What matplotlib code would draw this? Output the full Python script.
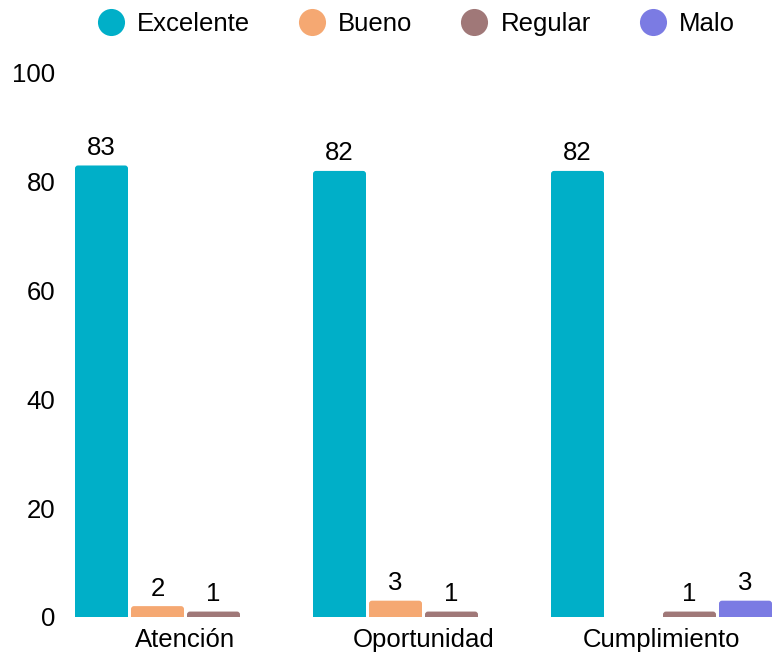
import matplotlib
matplotlib.use("Agg")
import matplotlib.pyplot as plt
from matplotlib.lines import Line2D
from matplotlib.patches import FancyBboxPatch
import numpy as np

categories = ["Atención", "Oportunidad", "Cumplimiento"]
series_names = ["Excelente", "Bueno", "Regular", "Malo"]
excelente = [83, 82, 82]
bueno = [2, 3, 0]
regular = [1, 1, 1]
malo = [0, 0, 3]
colors = ["#00AFC8", "#F5A872", "#A07878", "#7B7BE3"]
yticks = [0, 20, 40, 60, 80, 100]

plt.rcParams['font.family'] = ['Liberation Sans', 'DejaVu Sans']
FS = 18.5

fig = plt.figure(figsize=(7.77, 6.56), dpi=100)
W, H = 777, 656
ax = fig.add_axes([66.5 / W, 39 / H, 714 / W, 544 / H])
ax.set_xlim(-0.5, 2.5)
ax.set_ylim(0, 100)

data = [excelente, bueno, regular, malo]
x = np.arange(len(categories))
bw = 53 / 238
step = 56 / 238
offsets = (np.arange(4) - 1.5) * step
r = 3 / 238
aspect = (1 / 5.44) / (1 / 238)
for i, (vals, col) in enumerate(zip(data, colors)):
    for xi, v in zip(x, vals):
        if v <= 0:
            continue
        left = xi + offsets[i] - bw / 2
        p = FancyBboxPatch((left, -3), bw, v + 3,
                           boxstyle=f"round,pad=0,rounding_size={r}",
                           mutation_aspect=aspect, facecolor=col,
                           edgecolor='none', linewidth=0)
        p.set_clip_on(True)
        ax.add_patch(p)
        ax.text(xi + offsets[i], v + 1.0, str(v), ha='center', va='bottom',
                fontsize=FS, color='black')

ax.set_yticks(yticks)
ax.set_yticklabels([str(t) for t in yticks], fontsize=FS)
ax.set_xticks(x)
ax.set_xticklabels(categories, fontsize=FS)
ax.tick_params(axis='both', length=0)
ax.tick_params(axis='y', pad=8)
ax.tick_params(axis='x', pad=8)
for s in ax.spines.values():
    s.set_visible(False)

handles = [Line2D([0], [0], marker='o', linestyle='none', markersize=19.5,
                  markerfacecolor=c, markeredgecolor='none') for c in colors]
fig.legend(handles, series_names, loc='center', bbox_to_anchor=(416 / W, 1 - 24 / H),
           ncol=4, frameon=False, fontsize=FS, handletextpad=0.49,
           columnspacing=1.89, handlelength=1.05, borderpad=0, borderaxespad=0)

fig.savefig("out.png", dpi=100)
